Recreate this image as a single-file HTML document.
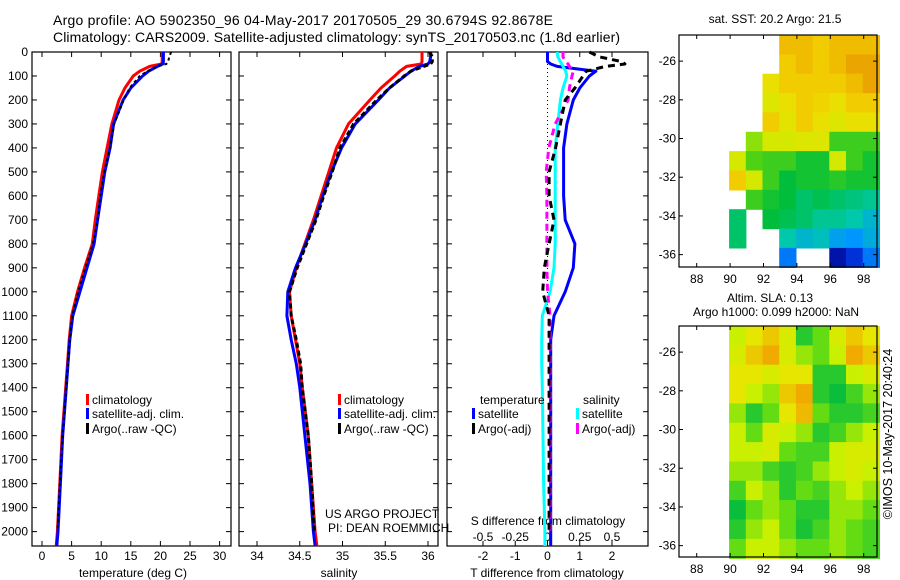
<!DOCTYPE html>
<html><head><meta charset="utf-8"><style>
html,body{margin:0;padding:0;background:#fff;}
svg{display:block;font-family:"Liberation Sans",sans-serif;}
</style></head><body>
<svg id="fig" width="900" height="580" viewBox="0 0 900 580" xmlns="http://www.w3.org/2000/svg">
<text x="53" y="25" font-size="14" textLength="500">Argo profile: AO 5902350_96 04-May-2017 20170505_29 30.6794S 92.8678E</text>
<text x="53" y="42" font-size="14" textLength="567">Climatology: CARS2009. Satellite-adjusted climatology: synTS_20170503.nc (1.8d earlier)</text>
<text x="775" y="23" font-size="12" text-anchor="middle">sat. SST: 20.2 Argo: 21.5</text>
<text x="770" y="302" font-size="12" text-anchor="middle">Altim. SLA: 0.13</text>
<text x="776" y="316" font-size="12" text-anchor="middle">Argo h1000: 0.099 h2000: NaN</text>
<text transform="translate(892,434) rotate(-90)" font-size="12.5" text-anchor="middle">©IMOS 10-May-2017 20:40:24</text>
<text x="325" y="518" font-size="12">US ARGO PROJECT</text>
<text x="328" y="532" font-size="12">PI: DEAN ROEMMICH</text>
</svg>
<script>
// ---- data ----
const depths=[0,20,40,50,60,80,100,150,200,300,400,500,600,700,800,900,1000,1100,1200,1300,1400,1600,1800,2000,2060];
const tClim=[20.3,20.3,20.3,20.2,18.2,16.5,15.4,14.0,13.0,11.8,11.0,10.2,9.6,9.0,8.5,7.2,6.0,5.0,4.6,4.3,4.0,3.4,3.0,2.6,2.4];
const tSat=[20.5,20.5,20.5,20.4,19.5,18.0,17.0,15.0,13.7,12.1,11.5,10.6,10.0,9.4,8.8,7.6,6.4,5.2,4.7,4.4,4.1,3.5,3.1,2.7,2.5];
const tArgo=[21.8,21.5,21.3,21.0,19.5,17.8,16.5,14.8,13.8,12.2,11.5,10.5,9.8,9.4,8.6,7.3,6.1,5.1,4.7,4.4,4.1,3.5,3.0,2.6,2.5];
const sClim=[35.93,35.93,35.93,35.92,35.75,35.67,35.61,35.45,35.32,35.07,34.93,34.84,34.75,34.66,34.56,34.46,34.38,34.40,34.45,34.50,34.53,34.60,34.64,34.68,34.70];
const sSat=[36.03,36.03,36.02,36.0,35.9,35.8,35.73,35.55,35.42,35.15,34.99,34.87,34.77,34.68,34.57,34.45,34.36,34.35,34.40,34.46,34.50,34.56,34.62,34.66,34.68];
const sArgo=[36.02,36.05,36.05,36.03,35.95,35.8,35.72,35.55,35.4,35.13,34.97,34.88,34.78,34.69,34.58,34.47,34.38,34.40,34.46,34.51,34.53,34.60,34.64,34.67,34.68];
const dTSat=[0,0,0,0.1,0.3,1.5,1.3,1.0,0.8,0.6,0.5,0.5,0.5,0.55,0.85,0.8,0.55,0.2,0.1,0.1,0.1,0.1,0.1,0.1,0.1];
const dTArgo=[1.3,1.6,2.3,2.4,1.8,1.2,1.1,0.85,0.55,0.4,0.25,0.05,0.05,0.2,0.05,-0.1,-0.15,0.05,0.05,0.05,0.05,0.05,0.05,0.05,0.05];
const dSSat=[0.075,0.08,0.1,0.11,0.12,0.14,0.15,0.12,0.1,0.08,0.06,0.06,0.06,0.06,0.06,0.05,0.02,-0.04,-0.045,-0.045,-0.04,-0.035,-0.03,-0.02,-0.02];
const dSArgo=[0.12,0.12,0.14,0.16,0.17,0.2,0.19,0.17,0.16,0.06,0.01,-0.01,-0.005,-0.005,-0.005,-0.005,0,0.02,0.02,0.02,0.02,0.02,0.02,0.02,0.02];
const depthTicks=[0,100,200,300,400,500,600,700,800,900,1000,1100,1200,1300,1400,1500,1600,1700,1800,1900,2000];
const tTicks=[0,5,10,15,20,25,30];
const sTicks=[34,34.5,35,35.5,36];
const sTickLabels=["34","34.5","35","35.5","36"];
const dTTicks=[-2,-1,0,1,2];
const dSTicks=[-0.5,-0.25,0,0.25,0.5];
const latTicks=[-26,-28,-30,-32,-34,-36];
const lonTicks=[88,90,92,94,96,98];
const N=null;
const sstGrid=[
[N,N,N,N,N,N,21,21,20.8,21,21,21],
[N,N,N,N,N,N,20.8,21,20.8,21,21.2,21.2],
[N,N,N,N,N,20.5,20.8,20.8,20.8,20.8,21,21.2],
[N,N,N,N,N,20.3,20.5,20.8,20.7,20.5,20.8,20.8],
[N,N,N,N,N,20.8,20.4,20.8,20.5,20.3,20.5,20.5],
[N,N,N,N,19.8,20.2,20.2,20.3,20.3,19.5,19.5,19.5],
[N,N,N,20.2,19.6,19.5,19.5,19.3,19.3,20.2,19.5,19.3],
[N,N,N,20.8,20.2,19.5,19.2,19.3,19.3,19.4,19.3,19.3],
[N,N,N,N,19.5,19.3,19.2,19.0,19.1,19.0,18.9,18.8],
[N,N,N,19.0,N,19.2,19.1,19.0,18.8,18.8,18.7,18.5],
[N,N,N,19.0,N,N,18.7,18.5,18.6,18.3,18.2,18.4],
[N,N,N,N,N,N,18.0,N,N,17.2,17.5,18]];
const slaGrid=[
[N,N,N,.5,.7,.8,.6,.1,.3,.6,.8,.7],
[N,N,N,.6,.8,.9,.6,.4,.3,.5,.9,.8],
[N,N,N,.7,.7,.6,.7,.7,.1,.1,.5,.6],
[N,N,N,.7,.5,.4,.8,.9,.1,0,.2,.4],
[N,N,N,.4,.1,.3,.7,.85,.3,.1,.1,.2],
[N,N,N,.5,.3,.6,.5,.4,.1,.2,.4,.5],
[N,N,N,.5,.5,.6,.3,.2,.2,.5,.6,.6],
[N,N,N,.4,.4,.2,.1,.2,.4,.5,.6,.5],
[N,N,N,.2,.5,.4,.1,.3,.2,.4,.5,.4],
[N,N,N,0,.3,.4,.3,.1,.1,.4,.4,.3],
[N,N,N,.1,.4,.5,.3,.05,.2,.4,.3,.2],
[N,N,N,.3,.5,.5,.4,.3,.3,.4,.3,.2]];

// ---- helpers ----
const svg=document.getElementById('fig');
const NS='http://www.w3.org/2000/svg';
function mk(tag,attrs,parent){const e=document.createElementNS(NS,tag);for(const k in attrs)e.setAttribute(k,attrs[k]);(parent||svg).appendChild(e);return e;}
const Y0=52,Y1=546;
const yD=d=>Y0+d*(Y1-Y0)/2060;
const xT=t=>42+t*5.92;
const xS=s=>257+(s-34)*85.5;
const xDT=v=>547.5+v*32.25;
const xDS=v=>xDT(v*4);

function panel(name,x0,x1,leftLabels,xTicksArr,xFn,xLabels,labelY){
  const g=mk('g',{});
  
  
  const r=mk('rect',{x:x0,y:Y0,width:x1-x0,height:Y1-Y0,fill:'none',stroke:'#000','stroke-width':1.2},g);
  
  
  depthTicks.forEach(d=>{
    mk('line',{x1:x0,x2:x0+5,y1:yD(d),y2:yD(d),stroke:'#000'},g);
    mk('line',{x1:x1-5,x2:x1,y1:yD(d),y2:yD(d),stroke:'#000'},g);
    if(leftLabels){const t=mk('text',{x:x0-4,y:yD(d)+4,'font-size':12,'text-anchor':'end'},g);t.textContent=d;
      
      }
  });
  xTicksArr.forEach((v,i)=>{
    const x=xFn(v);
    mk('line',{x1:x,x2:x,y1:Y0,y2:Y0+5,stroke:'#000'},g);
    mk('line',{x1:x,x2:x,y1:Y1-5,y2:Y1,stroke:'#000'},g);
    const t=mk('text',{x:x,y:labelY,'font-size':12,'text-anchor':'middle'},g);t.textContent=xLabels[i];
    
    
  });
  return g;
}
function series(name,xs,fn,color,w,dash,maxD){
  let p='';
  depths.forEach((d,i)=>{if(maxD!==undefined&&d>maxD)return;if(xs[i]===null)return;p+=(p?'L':'M')+fn(xs[i]).toFixed(1)+','+yD(d).toFixed(1);});
  const e=mk('path',{d:p,fill:'none',stroke:color,'stroke-width':w,'stroke-dasharray':dash||'none','stroke-linejoin':'round'});
  
  
}
function label(txt,x,y,name,size,anchor){
  const t=mk('text',{x:x,y:y,'font-size':size||12,'text-anchor':anchor||'start'});t.textContent=txt;
  
  
}
function legendEntry(txt,x,y,color,name){
  const g=mk('g',{});
  
  
  mk('rect',{x:x,y:y-10,width:3,height:11,fill:color},g);
  const t=mk('text',{x:x+6,y:y,'font-size':12},g);t.textContent=txt;
}

// ---- panels ----
panel('temperature-panel',32,231,true,tTicks,xT,tTicks.map(String),560);
label('temperature (deg C)',133,577,'temperature-axis-title',12,'middle');
series('temp-climatology-line',tClim,xT,'#ff0000',3);
series('temp-satellite-line',tSat,xT,'#0000ff',3);
series('temp-argo-line',tArgo,xT,'#000',2,'3,3',2000);
legendEntry('climatology',86,404,'#ff0000','temp-legend-climatology');
legendEntry('satellite-adj. clim.',86,418,'#0000ff','temp-legend-satellite');
legendEntry('Argo(..raw -QC)',86,433,'#000','temp-legend-argo');

panel('salinity-panel',239,438,false,sTicks,xS,sTickLabels,560);
label('salinity',339,577,'salinity-axis-title',12,'middle');
series('sal-climatology-line',sClim,xS,'#ff0000',3);
series('sal-satellite-line',sSat,xS,'#0000ff',3);
series('sal-argo-line',sArgo,xS,'#000',3,'5,3',2000);
legendEntry('climatology',338,404,'#ff0000','sal-legend-climatology');
legendEntry('satellite-adj. clim.',338,418,'#0000ff','sal-legend-satellite');
legendEntry('Argo(..raw -QC)',338,433,'#000','sal-legend-argo');

panel('difference-panel',447,648,false,dTTicks,xDT,dTTicks.map(String),560);
label('T difference from climatology',547,577,'t-diff-axis-title',12,'middle');
label('S difference from climatology',548,525,'s-diff-axis-title',12,'middle');
dSTicks.forEach(v=>{label(String(v),xDS(v),541,'s-diff-tick-label',12,'middle');});
(function(){const e=mk('line',{x1:xDT(0),x2:xDT(0),y1:Y0,y2:yD(1100),stroke:'#000','stroke-dasharray':'1,3'});

})();
series('t-diff-satellite-line',dTSat,xDT,'#0000ff',3);
series('s-diff-satellite-line',dSSat,xDS,'#00ffff',3);
series('s-diff-argo-line',dSArgo,xDS,'#ff00ff',3,'7,5',2000);
series('t-diff-argo-line',dTArgo,xDT,'#000',3,'7,5',2000);
label('temperature',480,404,'t-diff-legend-header');
label('salinity',583,404,'s-diff-legend-header');
legendEntry('satellite',472,418,'#0000ff','t-diff-legend-satellite');
legendEntry('Argo(-adj)',472,433,'#000','t-diff-legend-argo');
legendEntry('satellite',576,418,'#00ffff','s-diff-legend-satellite');
legendEntry('Argo(-adj)',576,433,'#ff00ff','s-diff-legend-argo');

// ---- maps ----
function lerpStops(stops,v){
  if(v<=stops[0][0])return stops[0][1];
  for(let i=1;i<stops.length;i++){if(v<=stops[i][0]){const a=stops[i-1],b=stops[i];const f=(v-a[0])/(b[0]-a[0]);
    const c=a[1].map((c0,k)=>Math.round(c0+(b[1][k]-c0)*f));return c;}}
  return stops[stops.length-1][1];
}
const sstStops=[[17.0,[0,0,140]],[17.6,[0,60,230]],[18.2,[0,150,255]],[18.7,[0,200,170]],[19.2,[0,190,60]],[19.6,[80,210,20]],[20.0,[200,240,0]],[20.6,[240,220,0]],[21.1,[240,180,0]],[21.5,[220,120,0]]];
const slaStops=[[0,[10,190,60]],[0.3,[100,220,20]],[0.5,[200,240,0]],[0.7,[230,230,0]],[0.9,[240,170,0]]];
function map(name,grid,stops,top,bot){
  const X0=679,X1=877,lon0=86.94,pxLon=16.7;
  const lat0=-24.65,pxLat=19.35;
  const xL=l=>X0+(l-lon0)*pxLon;
  const yL=l=>top+(lat0-l)*pxLat;
  const g=mk('g',{});
  
  
  grid.forEach((row,r)=>row.forEach((v,c)=>{
    if(v===null)return;
    const col=lerpStops(stops,v);
    const e=mk('rect',{x:xL(lon0+c).toFixed(1),y:yL(lat0-r).toFixed(1),width:(pxLon+0.6).toFixed(1),height:(pxLat+0.6).toFixed(1),fill:'rgb('+col.join(',')+')'},g);
    
    
  }));
  mk('rect',{x:X0,y:top,width:X1-X0,height:bot-top,fill:'none',stroke:'#000','stroke-width':1.2},g);
  latTicks.forEach(l=>{const y=yL(l);
    mk('line',{x1:X0,x2:X0+4,y1:y,y2:y,stroke:'#000'},g);mk('line',{x1:X1-4,x2:X1,y1:y,y2:y,stroke:'#000'},g);
    const t=mk('text',{x:X0-3,y:y+4,'font-size':12,'text-anchor':'end'},g);t.textContent=String(l);
    
    });
  lonTicks.forEach(l=>{const x=xL(l);
    mk('line',{x1:x,x2:x,y1:top,y2:top+4,stroke:'#000'},g);mk('line',{x1:x,x2:x,y1:bot-4,y2:bot,stroke:'#000'},g);
    const t=mk('text',{x:x,y:bot+16,'font-size':12,'text-anchor':'middle'},g);t.textContent=String(l);
    
    });
}
map('sst-map',sstGrid,sstStops,35,267);
map('sla-map',slaGrid,slaStops,326,557);
</script>
</body></html>
